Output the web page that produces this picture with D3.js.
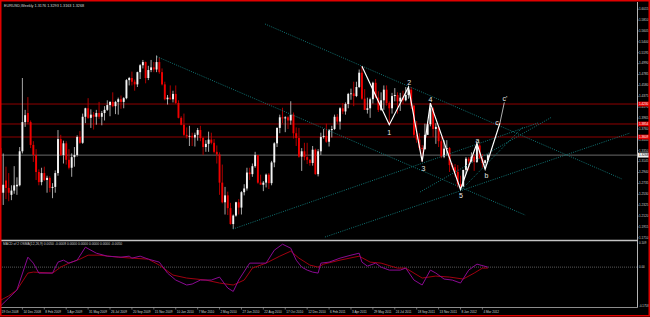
<!DOCTYPE html>
<html>
<head>
<meta charset="utf-8">
<script src="https://cdn.jsdelivr.net/npm/d3@7"></script>
<style>
html, body { margin: 0; padding: 0; background: #000; }
svg { display: block; font-family: "Liberation Sans", Arial, sans-serif; }
</style>
</head>
<body>
<div id="chart"></div>
<script>
// EURUSD weekly candles, one row per week from 19 Oct 2008: [open, high, low, close]
var weekly = [
    [1.3400,1.3460,1.2500,1.2560],[1.2560,1.3298,1.2330,1.2710],[1.2790,1.3050,1.2440,1.2650],[1.2650,1.2930,1.2400,1.2560],
    [1.2520,1.2700,1.2420,1.2600],[1.2600,1.3060,1.2540,1.2700],[1.2680,1.2850,1.2520,1.2710],[1.2700,1.3420,1.2680,1.3340],
    [1.3340,1.4720,1.3300,1.3890],[1.3890,1.4120,1.3800,1.4020],[1.4060,1.4360,1.3850,1.3890],[1.3890,1.3920,1.3400,1.3460],
    [1.3460,1.3530,1.3140,1.3270],[1.3270,1.3380,1.2800,1.2950],[1.2950,1.3000,1.2700,1.2760],[1.2760,1.3030,1.2700,1.2930],
    [1.2930,1.3050,1.2780,1.2800],[1.2800,1.2880,1.2560,1.2840],[1.2840,1.2870,1.2570,1.2650],[1.2650,1.2740,1.2457,1.2670],
    [1.2670,1.2980,1.2560,1.2930],[1.2930,1.3740,1.2880,1.3570],[1.3570,1.3650,1.3250,1.3270],[1.3270,1.3540,1.3110,1.3490],
    [1.3490,1.3530,1.3090,1.3180],[1.3180,1.3380,1.3000,1.3030],[1.3030,1.3300,1.2860,1.3230],[1.3230,1.3420,1.3050,1.3270],
    [1.3270,1.3640,1.3240,1.3610],[1.3610,1.3720,1.3480,1.3500],[1.3500,1.4050,1.3480,1.3990],[1.3990,1.4160,1.3870,1.4150],
    [1.4150,1.4340,1.3950,1.3970],[1.3970,1.4130,1.3780,1.4030],[1.4030,1.4080,1.3750,1.3990],[1.3990,1.4120,1.3840,1.4060],
    [1.4060,1.4270,1.3950,1.3990],[1.3990,1.4100,1.3830,1.4060],[1.4060,1.4190,1.3920,1.4120],[1.4120,1.4300,1.4100,1.4210],
    [1.4210,1.4280,1.4000,1.4270],[1.4270,1.4450,1.4170,1.4190],[1.4190,1.4290,1.4040,1.4270],[1.4270,1.4350,1.4030,1.4320],
    [1.4320,1.4390,1.4140,1.4270],[1.4270,1.4360,1.4150,1.4340],[1.4340,1.4700,1.4320,1.4680],[1.4680,1.4740,1.4580,1.4720],
    [1.4720,1.4840,1.4580,1.4650],[1.4650,1.4690,1.4480,1.4600],[1.4600,1.4840,1.4550,1.4830],[1.4830,1.4980,1.4700,1.4960],
    [1.4960,1.5060,1.4900,1.5020],[1.5020,1.5030,1.4620,1.4720],[1.4720,1.4950,1.4680,1.4870],[1.4870,1.5060,1.4830,1.4920],
    [1.4920,1.5020,1.4830,1.4880],[1.4880,1.5144,1.4830,1.5020],[1.5020,1.5110,1.4800,1.4830],[1.4830,1.4900,1.4580,1.4600],
    [1.4600,1.4650,1.4300,1.4320],[1.4320,1.4400,1.4220,1.4350],[1.4350,1.4580,1.4310,1.4320],[1.4320,1.4480,1.4260,1.4420],
    [1.4420,1.4580,1.4230,1.4250],[1.4250,1.4300,1.3960,1.3970],[1.3970,1.4000,1.3830,1.3840],[1.3840,1.4050,1.3630,1.3650],
    [1.3650,1.3790,1.3580,1.3620],[1.3620,1.3820,1.3440,1.3630],[1.3630,1.3690,1.3440,1.3600],[1.3600,1.3690,1.3430,1.3650],
    [1.3650,1.3780,1.3540,1.3740],[1.3740,1.3820,1.3530,1.3590],[1.3590,1.3610,1.3270,1.3420],[1.3420,1.3550,1.3330,1.3480],
    [1.3480,1.3710,1.3330,1.3560],[1.3560,1.3690,1.3470,1.3500],[1.3500,1.3570,1.3300,1.3330],[1.3330,1.3450,1.3110,1.3280],
    [1.3280,1.3320,1.2520,1.2750],[1.2750,1.3090,1.2360,1.2380],[1.2380,1.2670,1.2150,1.2510],[1.2510,1.2580,1.2140,1.2270],
    [1.2270,1.2370,1.1960,1.1970],[1.1970,1.2150,1.1877,1.2130],[1.2130,1.2390,1.2110,1.2380],[1.2380,1.2440,1.2150,1.2280],
    [1.2280,1.2590,1.2150,1.2570],[1.2570,1.2720,1.2510,1.2640],[1.2640,1.3030,1.2600,1.2940],[1.2940,1.3030,1.2800,1.2910],
    [1.2910,1.3110,1.2860,1.3060],[1.3060,1.3330,1.3030,1.3270],[1.3270,1.3270,1.2730,1.2750],[1.2750,1.2900,1.2720,1.2710],
    [1.2710,1.2780,1.2590,1.2750],[1.2750,1.2920,1.2660,1.2900],[1.2900,1.2930,1.2630,1.2740],[1.2740,1.3160,1.2700,1.3130],
    [1.3130,1.3510,1.3040,1.3490],[1.3490,1.3790,1.3420,1.3780],[1.3780,1.4030,1.3680,1.3980],[1.3980,1.4160,1.3870,1.3960],
    [1.3960,1.4000,1.3700,1.3980],[1.3980,1.4000,1.3760,1.3920],[1.3920,1.4282,1.3840,1.4030],[1.4030,1.4070,1.3580,1.3680],
    [1.3680,1.3790,1.3440,1.3590],[1.3590,1.3780,1.3220,1.3240],[1.3240,1.3400,1.2970,1.3340],[1.3340,1.3500,1.3170,1.3230],
    [1.3230,1.3500,1.3100,1.3180],[1.3180,1.3190,1.3070,1.3120],[1.3120,1.3440,1.3070,1.3370],[1.3370,1.3390,1.2900,1.2910],
    [1.2910,1.3380,1.2867,1.3340],[1.3340,1.3690,1.3270,1.3610],[1.3610,1.3760,1.3580,1.3630],[1.3630,1.3860,1.3500,1.3520],
    [1.3520,1.3760,1.3430,1.3740],[1.3740,1.3820,1.3600,1.3760],[1.3760,1.4030,1.3740,1.3990],[1.3990,1.4040,1.3860,1.3900],
    [1.3900,1.4170,1.3750,1.4150],[1.4150,1.4250,1.4040,1.4090],[1.4090,1.4260,1.4030,1.4230],[1.4230,1.4440,1.4150,1.4420],
    [1.4420,1.4520,1.4310,1.4430],[1.4430,1.4650,1.4190,1.4380],[1.4380,1.4650,1.4360,1.4550],[1.4550,1.4880,1.4530,1.4820],
    [1.4820,1.4940,1.4310,1.4330],[1.4330,1.4510,1.4120,1.4120],[1.4120,1.4350,1.4050,1.4150],[1.4150,1.4350,1.3970,1.4320],
    [1.4320,1.4650,1.4240,1.4630],[1.4630,1.4700,1.4350,1.4350],[1.4350,1.4470,1.4080,1.4120],[1.4120,1.4450,1.4100,1.4300],
    [1.4300,1.4580,1.4120,1.4500],[1.4500,1.4580,1.4200,1.4250],[1.4250,1.4280,1.3840,1.4150],[1.4150,1.4440,1.4050,1.4380],
    [1.4380,1.4530,1.4280,1.4400],[1.4400,1.4450,1.4050,1.4280],[1.4280,1.4440,1.4100,1.4350],[1.4350,1.4480,1.4230,1.4300],
    [1.4300,1.4550,1.4280,1.4400],[1.4400,1.4550,1.4330,1.4500],[1.4500,1.4550,1.4140,1.4200],[1.4200,1.4210,1.3600,1.3650],
    [1.3650,1.3910,1.3500,1.3560],[1.3560,1.3680,1.3360,1.3400],[1.3400,1.3460,1.3145,1.3380],[1.3380,1.3860,1.3370,1.3650],
    [1.3650,1.3900,1.3650,1.3850],[1.3850,1.4247,1.3810,1.4150],[1.4150,1.4170,1.3610,1.3760],[1.3760,1.3870,1.3480,1.3800],
    [1.3800,1.3810,1.3420,1.3530],[1.3530,1.3620,1.3210,1.3240],[1.3240,1.3550,1.3210,1.3390],[1.3390,1.3550,1.3260,1.3400],
    [1.3400,1.3420,1.2950,1.3080],[1.3080,1.3120,1.2990,1.3040],[1.3040,1.3100,1.2860,1.2950],[1.2950,1.3080,1.2660,1.2720],
    [1.2720,1.2880,1.2624,1.2680],[1.2680,1.2990,1.2670,1.2990],[1.2990,1.3230,1.2920,1.3200],[1.3200,1.3230,1.2980,1.3150],
    [1.3150,1.3320,1.3130,1.3240],[1.3240,1.3290,1.2970,1.3140],[1.3140,1.3490,1.3120,1.3450],[1.3450,1.3490,1.3230,1.3200],
    [1.3200,1.3290,1.3030,1.3120],[1.3120,1.3180,1.3003,1.3170],[1.3176,1.3293,1.3163,1.3268]
];

var timeLabels = ["19 Oct 2008", "14 Dec 2008", "8 Feb 2009", "5 Apr 2009", "31 May 2009", "26 Jul 2009",
    "20 Sep 2009", "15 Nov 2009", "10 Jan 2010", "7 Mar 2010", "2 May 2010", "27 Jun 2010", "22 Aug 2010",
    "17 Oct 2010", "12 Dec 2010", "6 Feb 2011", "3 Apr 2011", "29 May 2011", "24 Jul 2011", "18 Sep 2011",
    "13 Nov 2011", "8 Jan 2012", "4 Mar 2012"];
var timeLabelBars = [0, 8, 16, 24, 32, 40, 48, 56, 64, 72, 80, 88, 96, 104, 112, 120, 128, 136, 144, 152, 160, 168, 176];

var priceTicks = [1.6015, 1.5810, 1.5605, 1.5400, 1.5195, 1.4990, 1.4785, 1.4580, 1.4375, 1.4170, 1.3965,
    1.3760, 1.3555, 1.3350, 1.3145, 1.2940, 1.2735, 1.2530, 1.2325, 1.2120, 1.1915, 1.1710];

// horizontal levels (red) and last price
var levels = [1.4230, 1.3854, 1.3609];
var lastPrice = 1.3268;

// trend lines: [bar1, price1, bar2, price2]
var trendLines = [
    [57.2, 1.5120, 191.6, 1.2140],
    [96.6, 1.5737, 227.0, 1.2818],
    [84.9, 1.1877, 196.3, 1.3873],
    [118.5, 1.1726, 229.9, 1.3684],
    [153.2, 1.2573, 201.4, 1.3986],
    [168.2, 1.2611, 190.8, 1.3797]
];

// wave count zigzag
var wavePoints = [[132, 1.4940], [142, 1.3840], [149, 1.4550], [154, 1.3145], [157, 1.4247],
    [168, 1.2624], [174, 1.3490], [177, 1.3003], [182.4, 1.3870], [184, 1.4260]];
var waveLabels = [["1", 142, 1.3840, 8], ["2", 149.3, 1.4550, -4], ["3", 154.5, 1.3145, 8],
    ["4", 157, 1.4247, -3], ["5", 168.2, 1.2624, 7], ["a", 174.2, 1.3490, -2], ["b", 177.5, 1.3003, 7],
    ["c", 181.3, 1.3870, 0], ["c'", 184.2, 1.4260, -3]];

// MACD subwindow: [bar, value]
var macdMain = [[0, -0.176], [3, -0.14], [6, -0.1035], [10, 0.045], [12, 0.018], [14, -0.027], [19, -0.027],
    [21, 0.0225], [23, 0.0315], [25, 0.018], [28, 0.0315], [31, 0.09], [35, 0.063], [39, 0.0495], [44, 0.045],
    [47, 0.0495], [48, 0.0405], [51, 0.0495], [54, 0.036], [58, 0.0225], [61, -0.027], [64, -0.0585], [68, -0.081],
    [70, -0.0765], [73, -0.0585], [77, -0.0585], [80, -0.045], [83, -0.0945], [85, -0.11], [87, -0.0585],
    [91, 0.018], [95, 0.018], [97, 0.018], [100, 0.0765], [103, 0.1035], [106, 0.0855], [108, 0.0315], [110, 0],
    [112, -0.0135], [114, -0.0225], [116, -0.027], [117, 0.018], [120, 0.0225], [124, 0.0405], [128, 0.054],
    [131, 0.063], [132, 0.0225], [134, 0.0045], [137, 0.018], [139, 0], [142, -0.0135], [146, -0.0135],
    [148, -0.0045], [151, -0.0585], [154, -0.081], [157, -0.0135], [159, -0.027], [162, -0.054], [165, -0.0585],
    [168, -0.072], [171, -0.0135], [174, 0.0135], [178, 0]];
var macdSignal = [[0, -0.15], [3, -0.13], [6, -0.1035], [10, -0.027], [12, -0.0225], [19, -0.027], [22, 0],
    [25, 0.018], [29, 0.036], [32, 0.054], [36, 0.054], [43, 0.045], [48, 0.0405], [54, 0.036], [58, 0.009],
    [63, -0.036], [68, -0.0495], [75, -0.0585], [80, -0.072], [85, -0.081], [89, -0.0585], [92, -0.0045],
    [97, 0.018], [102, 0.0495], [106, 0.072], [109, 0.0405], [113, 0.009], [116, 0], [118, 0.0135], [124, 0.0315],
    [131, 0.0495], [135, 0.0225], [139, 0.018], [145, -0.0045], [148, -0.0045], [154, -0.0495], [159, -0.0405],
    [164, -0.045], [169, -0.054], [173, -0.027], [176, -0.0045], [178, -0.0045]];
var macdTicks = [0.109, 0, -0.1758];

var svgWidth = 650;
var svgHeight = 317;
var axisX = 637.5;
var mainTop = 3, mainBottom = 239;
var subTop = 240.5, subBottom = 307.5;
var tickFont = "3.1px";

var svg = d3.select("#chart")
    .append("svg")
    .attr("width", svgWidth)
    .attr("height", svgHeight)
    .style("background", "#000");

var x = d3.scaleLinear().domain([0, 176]).range([0.5, 482.4]);
var y = d3.scaleLinear().domain([1.1877, 1.4720]).range([229, 78]);
var yMacd = d3.scaleLinear().domain([-0.1758, 0.109]).range([306, 243]);

var defs = svg.append("defs");
defs.append("clipPath").attr("id", "mainClip")
    .append("rect").attr("x", 1).attr("y", mainTop).attr("width", axisX - 1).attr("height", mainBottom - mainTop);
defs.append("clipPath").attr("id", "subClip")
    .append("rect").attr("x", 1).attr("y", subTop + 1).attr("width", axisX - 1).attr("height", subBottom - subTop - 1);

var main = svg.append("g").attr("clip-path", "url(#mainClip)");

// red levels and last price line
main.selectAll(".level")
    .data(levels)
    .enter()
    .append("line")
    .attr("x1", 0).attr("x2", axisX)
    .attr("y1", d => y(d)).attr("y2", d => y(d))
    .attr("stroke", "#900000")
    .attr("stroke-width", 1);

main.append("line")
    .attr("x1", 0).attr("x2", axisX)
    .attr("y1", y(lastPrice)).attr("y2", y(lastPrice))
    .attr("stroke", "#6a6a6a")
    .attr("stroke-width", 1);

// candles
var candles = main.selectAll(".candle")
    .data(weekly)
    .enter()
    .append("g");

candles.append("line")
    .attr("x1", (d, i) => x(i)).attr("x2", (d, i) => x(i))
    .attr("y1", d => y(d[1])).attr("y2", d => y(d[2]))
    .attr("stroke", d => d[3] >= d[0] ? "#b8b8b8" : "#c00000")
    .attr("stroke-width", 0.9);

candles.append("rect")
    .attr("x", (d, i) => x(i) - 0.95)
    .attr("width", 1.9)
    .attr("y", d => y(Math.max(d[0], d[3])))
    .attr("height", d => Math.max(0.8, Math.abs(y(d[0]) - y(d[3]))))
    .attr("fill", d => d[3] >= d[0] ? "#f4f4f4" : "#f00000");

// dotted trend lines
main.selectAll(".trend")
    .data(trendLines)
    .enter()
    .append("line")
    .attr("x1", d => x(d[0])).attr("y1", d => y(d[1]))
    .attr("x2", d => x(d[2])).attr("y2", d => y(d[3]))
    .attr("stroke", "#138282")
    .attr("stroke-width", 0.9)
    .attr("stroke-dasharray", "1,1.3");

// wave zigzag
main.append("path")
    .datum(wavePoints.slice(0, 9))
    .attr("d", d3.line().x(d => x(d[0])).y(d => y(d[1])))
    .attr("fill", "none")
    .attr("stroke", "#ffffff")
    .attr("stroke-width", 1.2);

main.append("path")
    .datum(wavePoints.slice(8))
    .attr("d", d3.line().x(d => x(d[0])).y(d => y(d[1])))
    .attr("fill", "none")
    .attr("stroke", "#dddddd")
    .attr("stroke-width", 0.8);

main.selectAll(".wlabel")
    .data(waveLabels)
    .enter()
    .append("text")
    .attr("x", d => x(d[1]))
    .attr("y", d => y(d[2]) + d[3])
    .attr("text-anchor", "middle")
    .attr("dominant-baseline", "middle")
    .attr("fill", "#e8e8e8")
    .style("font-size", "7px")
    .text(d => d[0]);

// title
svg.append("text")
    .attr("x", 4).attr("y", 7)
    .attr("fill", "#d8d8d8")
    .style("font-size", "3.8px")
    .text("EURUSD,Weekly  1.3176 1.3293 1.3163 1.3268");

// MACD subwindow
var sub = svg.append("g").attr("clip-path", "url(#subClip)");

sub.append("line")
    .attr("x1", 0).attr("x2", axisX)
    .attr("y1", yMacd(0)).attr("y2", yMacd(0))
    .attr("stroke", "#707070")
    .attr("stroke-width", 0.8)
    .attr("stroke-dasharray", "1,1");

sub.append("path")
    .datum(macdSignal)
    .attr("d", d3.line().x(d => x(d[0])).y(d => yMacd(d[1])))
    .attr("fill", "none")
    .attr("stroke", "#a00010")
    .attr("stroke-width", 1);

sub.append("path")
    .datum(macdMain)
    .attr("d", d3.line().x(d => x(d[0])).y(d => yMacd(d[1])))
    .attr("fill", "none")
    .attr("stroke", "#8a0a92")
    .attr("stroke-width", 1);

svg.append("text")
    .attr("x", 3).attr("y", subTop + 4.5)
    .attr("fill", "#d0d0d0")
    .style("font-size", "3.3px")
    .text("MACD of 2 OSMA(12,26,9) 0.0050 -0.0008 0.0000 0.0000 0.0000 0.0000 -0.0050");

// frame lines
svg.append("line")
    .attr("x1", 0).attr("x2", axisX).attr("y1", subTop).attr("y2", subTop)
    .attr("stroke", "#c4c4c4").attr("stroke-width", 1.3);
svg.append("line")
    .attr("x1", 0).attr("x2", axisX).attr("y1", subBottom).attr("y2", subBottom)
    .attr("stroke", "#b0b0b0").attr("stroke-width", 0.8);
svg.append("line")
    .attr("x1", axisX).attr("x2", axisX).attr("y1", 2).attr("y2", subBottom)
    .attr("stroke", "#c8c8c8").attr("stroke-width", 0.9);

// price axis
var priceAxis = svg.append("g");
priceAxis.selectAll("text")
    .data(priceTicks)
    .enter()
    .append("text")
    .attr("x", axisX + 1.5)
    .attr("y", d => y(d))
    .attr("dominant-baseline", "middle")
    .attr("fill", "#d0d0d0")
    .style("font-size", tickFont)
    .text(d => d.toFixed(4));
priceAxis.selectAll("line")
    .data(priceTicks)
    .enter()
    .append("line")
    .attr("x1", axisX).attr("x2", axisX + 1.2)
    .attr("y1", d => y(d)).attr("y2", d => y(d))
    .attr("stroke", "#c8c8c8").attr("stroke-width", 0.6);

var levelTags = svg.append("g");
levelTags.selectAll("rect")
    .data(levels)
    .enter()
    .append("rect")
    .attr("x", axisX + 0.5).attr("width", 11)
    .attr("y", d => y(d) - 2.4).attr("height", 4.8)
    .attr("fill", "#e00000");
levelTags.selectAll("text")
    .data(levels)
    .enter()
    .append("text")
    .attr("x", axisX + 1.5)
    .attr("y", d => y(d))
    .attr("dominant-baseline", "middle")
    .attr("fill", "#ffffff")
    .style("font-size", tickFont)
    .text(d => d.toFixed(4));

svg.append("rect")
    .attr("x", axisX + 0.5).attr("width", 11)
    .attr("y", y(lastPrice) - 2.4).attr("height", 4.8)
    .attr("fill", "#f0f0f0");
svg.append("text")
    .attr("x", axisX + 1.5).attr("y", y(lastPrice))
    .attr("dominant-baseline", "middle")
    .attr("fill", "#000")
    .style("font-size", tickFont)
    .text(lastPrice.toFixed(4));

// MACD axis labels
svg.selectAll(".macdTick")
    .data(macdTicks)
    .enter()
    .append("text")
    .attr("x", axisX + 1.5)
    .attr("y", d => yMacd(d))
    .attr("dominant-baseline", "middle")
    .attr("fill", "#d0d0d0")
    .style("font-size", "2.9px")
    .text(d => d === 0 ? "0.00" : d);

// time axis
var timeAxis = svg.append("g");
timeAxis.selectAll("line")
    .data(timeLabelBars)
    .enter()
    .append("line")
    .attr("x1", d => x(d)).attr("x2", d => x(d))
    .attr("y1", subBottom).attr("y2", subBottom + 2)
    .attr("stroke", "#b0b0b0").attr("stroke-width", 0.6);
timeAxis.selectAll("text")
    .data(timeLabels)
    .enter()
    .append("text")
    .attr("x", (d, i) => x(timeLabelBars[i]) + 1)
    .attr("y", 313.3)
    .attr("fill", "#d0d0d0")
    .style("font-size", tickFont)
    .text(d => d);

// red window frame
svg.append("rect")
    .attr("x", 0.75).attr("y", 0.75)
    .attr("width", svgWidth - 1.5).attr("height", 315)
    .attr("fill", "none")
    .attr("stroke", "#e00000")
    .attr("stroke-width", 1.5);
</script>
</body>
</html>
